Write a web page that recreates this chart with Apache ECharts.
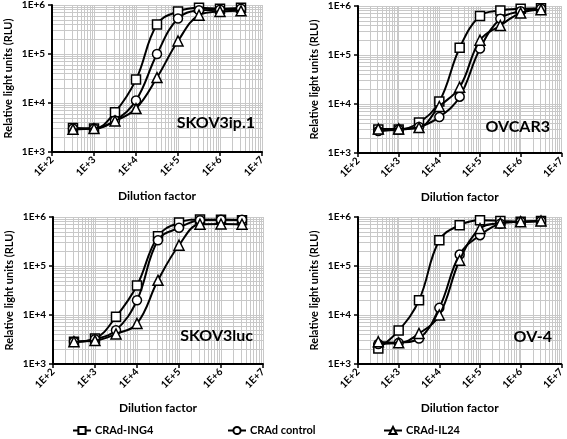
<!DOCTYPE html>
<html>
<head>
<meta charset="utf-8">
<script src="https://cdn.jsdelivr.net/npm/echarts@6/dist/echarts.min.js"></script>
<style>
html,body{margin:0;padding:0;background:#fff;}
#main{width:567px;height:439px;}
</style>
</head>
<body>
<div id="main"></div>
<script>
// ---- data ----
const dilutions = [316, 1000, 3162, 10000, 31623, 100000, 316228, 1000000, 3162278];
const seriesNames = ['CRAd-ING4', 'CRAd control', 'CRAd-IL24'];
const panelNames = ['SKOV3ip.1', 'OVCAR3', 'SKOV3luc', 'OV-4'];
const xTickLabels = ['1E+2', '1E+3', '1E+4', '1E+5', '1E+6', '1E+7'];
const yTickLabels = ['1E+3', '1E+4', '1E+5', '1E+6'];

const skov3ip1_ING4    = [3100, 3000, 6500, 30000, 400000, 740000, 880000, 840000, 880000];
const skov3ip1_control = [3000, 3000, 4400, 11300, 100000, 530000, 780000, 800000, 840000];
const skov3ip1_IL24    = [2900, 3000, 4300, 7700, 33000, 184000, 620000, 740000, 760000];

const ovcar3_ING4    = [3000, 3000, 4200, 11200, 140000, 625000, 810000, 880000, 900000];
const ovcar3_control = [2800, 3000, 3400, 5400, 14100, 135000, 550000, 780000, 880000];
const ovcar3_IL24    = [3100, 3100, 3300, 8900, 22000, 200000, 400000, 720000, 840000];

const skov3luc_ING4    = [2850, 3300, 9200, 40000, 405000, 770000, 890000, 880000, 860000];
const skov3luc_control = [2850, 3200, 4900, 20000, 335000, 600000, 860000, 880000, 880000];
const skov3luc_IL24    = [2850, 3000, 4100, 6700, 51000, 265000, 710000, 720000, 710000];

const ov4_ING4    = [2080, 4800, 20000, 335000, 680000, 860000, 830000, 800000, 830000];
const ov4_control = [2550, 2700, 3300, 14000, 171000, 425000, 730000, 800000, 830000];
const ov4_IL24    = [2850, 2700, 4200, 10000, 131000, 580000, 755000, 800000, 830000];

const panelData = [
  [skov3ip1_ING4, skov3ip1_control, skov3ip1_IL24],
  [ovcar3_ING4, ovcar3_control, ovcar3_IL24],
  [skov3luc_ING4, skov3luc_control, skov3luc_IL24],
  [ov4_ING4, ov4_control, ov4_IL24]
];

// ---- layout / style ----
const FONT = 'Lato';
const grids = [
  {left: 52, top: 5, width: 210, height: 147},
  {left: 358, top: 6, width: 206, height: 147},
  {left: 53, top: 217, width: 210, height: 147},
  {left: 358, top: 217, width: 206, height: 147}
];
const labelPos = [[255, 123], [550, 127], [253, 336], [552, 337]];
const symbols = ['rect', 'circle', 'triangle'];
const symbolSizes = [9, 9, 10];
const gridColor = '#c8c8c8';

function minorValues(lo, hi) {
  const out = [];
  for (let d = lo; d < hi; d *= 10) {
    for (let m = 2; m <= 9; m++) out.push(d * m);
  }
  return out;
}
const xMinor = minorValues(100, 1e7);
const yMinor = minorValues(1000, 1e6);

const xAxes = [], yAxes = [], series = [], graphics = [];
grids.forEach((g, i) => {
  xAxes.push({
    type: 'log', logBase: 10, gridIndex: i, min: 100, max: 1e7, interval: 1,
    name: 'Dilution factor', nameLocation: 'middle', nameGap: 38,
    nameTextStyle: {fontFamily: FONT, fontWeight: 'bold', fontSize: 12, color: '#000'},
    axisLine: {show: true, lineStyle: {color: '#000', width: 2}},
    axisTick: {show: true, length: 4, lineStyle: {color: '#000', width: 1.5}},
    axisLabel: {
      rotate: 45, fontFamily: FONT, fontWeight: 'bold', fontSize: 10, color: '#000', margin: 6,
      formatter: v => xTickLabels[Math.round(Math.log10(v)) - 2]
    },
    splitLine: {show: true, lineStyle: {color: gridColor, width: 1}}
  });
  yAxes.push({
    type: 'log', logBase: 10, gridIndex: i, min: 1000, max: 1e6, interval: 1,
    name: 'Relative light units (RLU)', nameLocation: 'middle', nameGap: 38, nameRotate: 90,
    nameTextStyle: {fontFamily: FONT, fontWeight: 'bold', fontSize: 11, color: '#000'},
    axisLine: {show: true, lineStyle: {color: '#000', width: 2}},
    axisTick: {show: true, length: 4, lineStyle: {color: '#000', width: 1.5}},
    axisLabel: {
      fontFamily: FONT, fontWeight: 'bold', fontSize: 10, color: '#000', margin: 7,
      formatter: v => yTickLabels[Math.round(Math.log10(v)) - 3]
    },
    splitLine: {show: true, lineStyle: {color: gridColor, width: 1}}
  });
  // minor grid lines
  series.push({
    type: 'line', xAxisIndex: i, yAxisIndex: i, data: [], silent: true, z: 0, zlevel: 0,
    markLine: {
      silent: true, symbol: 'none', animation: false, z: 0,
      label: {show: false},
      emphasis: {disabled: true},
      lineStyle: {color: gridColor, type: 'solid', width: 1},
      data: xMinor.map(v => ({xAxis: v})).concat(yMinor.map(v => ({yAxis: v})))
    }
  });
  panelData[i].forEach((vals, k) => {
    series.push({
      name: seriesNames[k], type: 'line', xAxisIndex: i, yAxisIndex: i, z: 10 + k,
      data: dilutions.map((d, j) => [d, vals[j]]),
      smooth: 0.4,
      symbol: symbols[k], symbolSize: symbolSizes[k], showSymbol: true,
      lineStyle: {color: '#000', width: 2},
      itemStyle: {color: '#fff', borderColor: '#000', borderWidth: 1.5},
      emphasis: {disabled: true}
    });
  });
  graphics.push({
    type: 'text', x: labelPos[i][0], y: labelPos[i][1], z: 100,
    style: {
      text: panelNames[i], textAlign: 'right', textVerticalAlign: 'middle',
      font: 'bold 16px ' + FONT, fill: '#000'
    }
  });
});

const legendLefts = [72, 227, 383];
const legends = seriesNames.map((n, k) => ({
  data: [n], left: legendLefts[k], top: 425, padding: 0,
  itemWidth: 18, itemHeight: 9, itemGap: 4, selectedMode: false,
  textStyle: {fontFamily: FONT, fontWeight: 'bold', fontSize: 11, color: '#000', padding: [0, 0, 0, -1]}
}));

const option = {
  animation: false,
  backgroundColor: '#fff',
  grid: grids,
  xAxis: xAxes,
  yAxis: yAxes,
  legend: legends,
  series: series,
  graphic: graphics
};
const chart = echarts.init(document.getElementById('main'), null, {renderer: 'canvas'});
chart.setOption(option);
</script>
</body>
</html>
